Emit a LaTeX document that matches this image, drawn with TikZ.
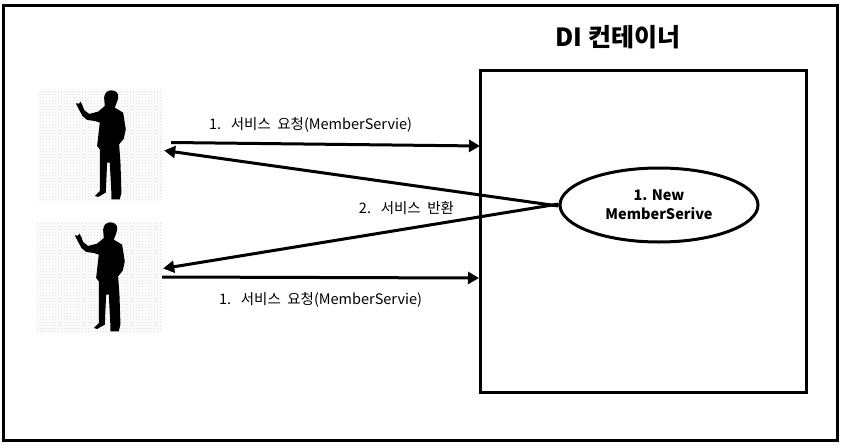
\documentclass[tikz,border=0pt]{standalone}
\usepackage{fontspec}
\setmainfont{Noto Sans CJK KR}
\usetikzlibrary{positioning,patterns,arrows.meta,shapes.geometric}
\tikzset{
	x=1pt, y=-1pt,
	frame/.style = {draw=black, line width=3pt, fill=white},
	backdrop/.style = {minimum width=125pt, minimum height=110pt, inner sep=0, pattern=crosshatch dots, pattern color=gray!30},
	service/.style = {ellipse, draw=black, line width=3pt, fill=white, minimum width=198pt, minimum height=74pt, inner sep=0, align=center, font=\fontsize{14.5}{19}\selectfont\bfseries},
	flow/.style = {draw=black, line width=3pt, -{Triangle[length=11pt,width=12pt]}},
	label/.style = {inner sep=0, font=\fontsize{14.5}{16}\selectfont},
	person/.pic = {
		\fill[black, shift={(-24,-33)}] (245,33) .. controls (260,33) and (268,45) .. (265,55)
			.. controls (263,68) and (258,75) .. (255,85) -- (280,100) -- (288,150) -- (282,178) -- (268,195)
			-- (272,250) -- (275,340) -- (270,360) -- (245,360) -- (245,345) -- (240,250) -- (232,250)
			-- (228,340) -- (205,353) -- (195,350) -- (210,335) -- (210,210) -- (202,200) -- (210,130)
			-- (195,125) -- (172,122) -- (158,110) -- (146,88) -- (138,72) -- (148,73) -- (152,67)
			-- (158,78) -- (163,92) -- (178,104) -- (205,97) -- (225,80) -- (223,55) .. controls (224,42) and (232,33) .. (245,33) -- cycle;
	}
}
\begin{document}
\begin{tikzpicture}
	\useasboundingbox (0,0) rectangle (848,447);
	\node [frame, minimum width=834pt, minimum height=435pt, inner sep=0] (outer) at (420.5,223) {};
	\node [frame, minimum width=326pt, minimum height=322pt, inner sep=0] (container) at (643,231) {};
	\node [above=19pt of container, xshift=-25pt, font=\fontsize{25}{30}\selectfont\bfseries, inner sep=0] (title) {DI 컨테이너};
	
	\node [backdrop] (back1) at (100.5,145.5) {};
	\node [backdrop] (back2) at (99.5,277.5) {};
	\pic [scale=0.3333] at (back1.north west) {person};
	\pic [scale=0.3333] at (back2.north west) {person};
	
	\node [service] (new) at (659,205) {1. New\\MemberSerive};
	
	\coordinate (in1) at (480,146);
	\coordinate (in2) at (479,278);
	\draw [flow] ([shift={(8,-3)}]back1.east) -- (in1);
	\draw [flow] ([yshift=0.5pt]back2.east) -- (in2);
	\draw [flow] ([yshift=-1pt]new.west) -- ([shift={(1,5)}]back1.east);
	\draw [flow] ([yshift=1pt]new.west) -- ([shift={(1,-9)}]back2.east);
	
	\node [label] (req1) at (310.5,125) {1.\ \ \ 서비스\ \ 요청(MemberServie)};
	\node [label] (ret) at (406.5,208) {2.\ \ \ 서비스\ \ 반환};
	\node [label] (req2) at (320.5,300) {1.\ \ \ 서비스\ \ 요청(MemberServie)};
\end{tikzpicture}
\end{document}
